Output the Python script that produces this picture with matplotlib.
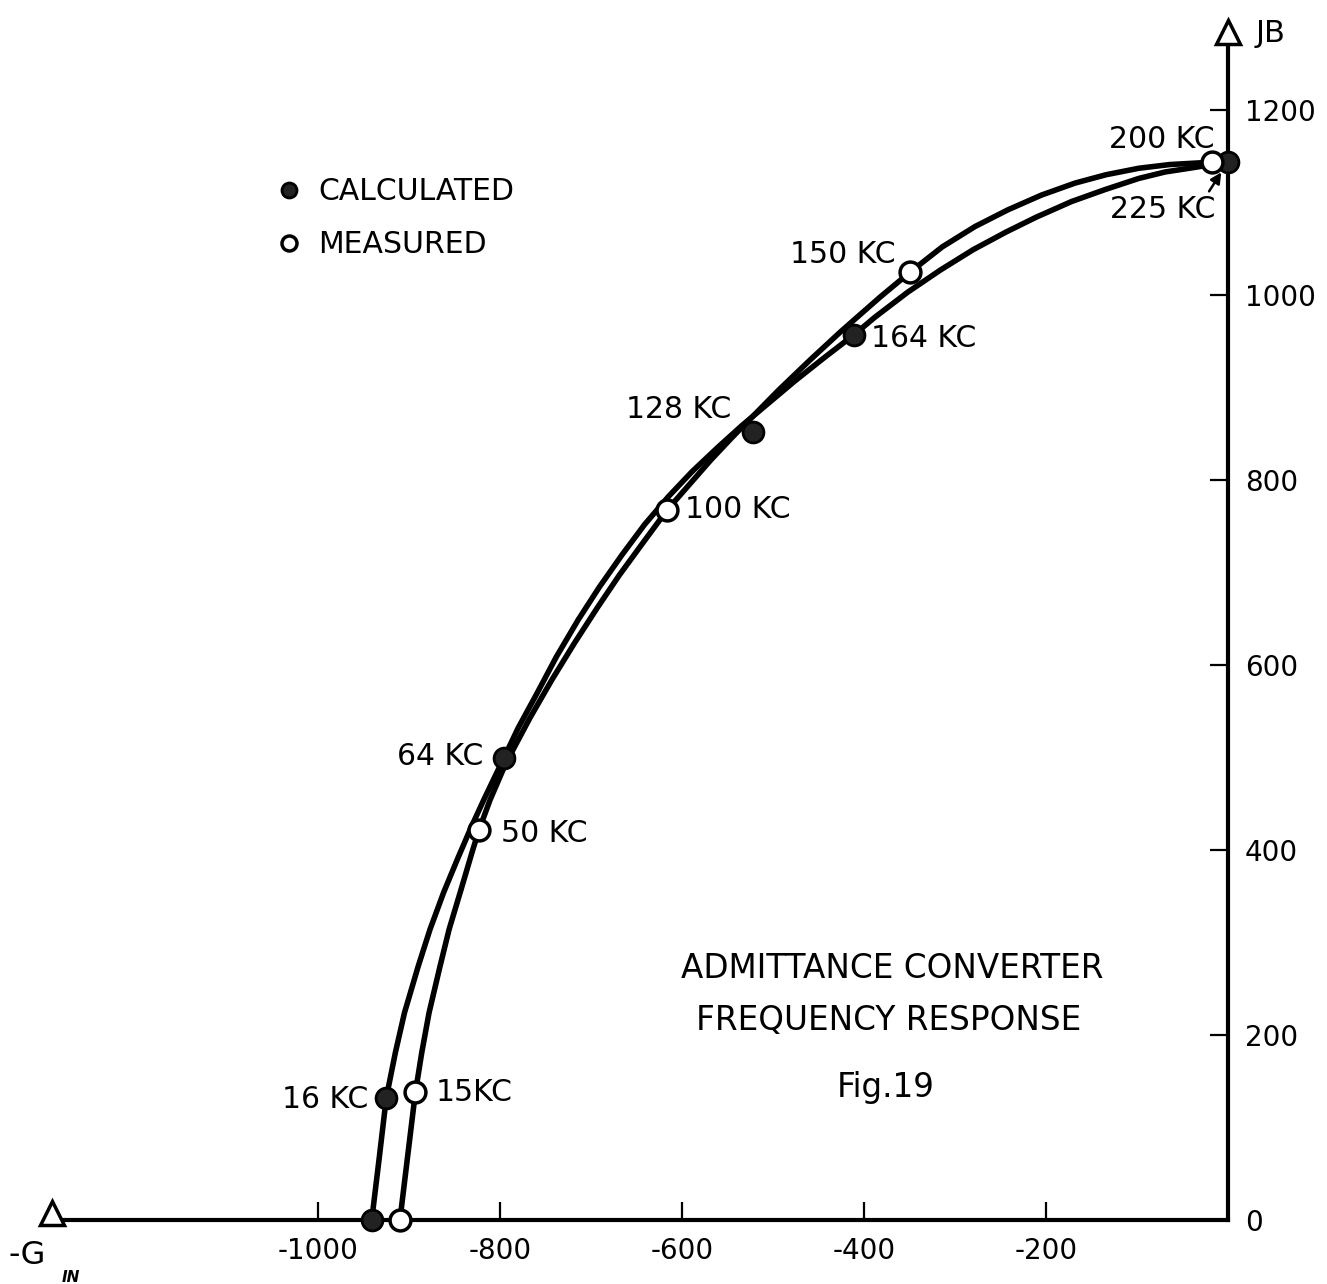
import matplotlib
matplotlib.use('Agg')
import matplotlib.pyplot as plt

# admittance converter frequency response, Fig. 19
# -G_in (x) against jB (y)

# curve through the calculated values
calc_curve_g = [-941, -933, -925, -915, -905, -890, -877, -862, -846, -832,
                -817, -796, -780, -759, -738, -714, -691, -666, -641, -615,
                -589, -561, -534, -505, -476, -444, -411, -388, -352, -316,
                -280, -244, -211, -172, -135, -98, -69, -36, 0]
calc_curve_b = [0, 65, 132, 181, 224, 274, 314, 354, 392, 424,
                456, 499, 532, 570, 609, 649, 684, 719, 752, 782,
                809, 835, 859, 883, 907, 932, 957, 976, 1003, 1027,
                1049, 1068, 1084, 1101, 1114, 1126, 1133, 1138, 1144]
# curve through the measured values
meas_curve_g = [-910, -902, -893, -886, -878, -866, -856, -842, -830, -823,
                -811, -797, -787, -767, -743, -718, -693, -669, -643, -616,
                -592, -568, -545, -519, -494, -459, -426, -411, -382, -349,
                -314, -278, -242, -205, -168, -134, -98, -64, -28, -18]
meas_curve_b = [0, 65, 138, 181, 224, 274, 314, 360, 400, 422,
                454, 486, 506, 543, 584, 624, 662, 697, 732, 768,
                795, 822, 846, 872, 897, 930, 960, 973, 998, 1025,
                1052, 1074, 1092, 1108, 1121, 1130, 1137, 1141, 1143, 1144]

# points
calc_g = [-941, -925, -796, -522, -411, 0]
calc_b = [0, 132, 499, 852, 957, 1144]
calc_lbl = ['', '16 KC', '64 KC', '128 KC', '164 KC', '225 KC']
meas_g = [-910, -893, -823, -616, -349, -18]
meas_b = [0, 138, 422, 768, 1025, 1144]
meas_lbl = ['', '15KC', '50 KC', '100 KC', '150 KC', '200 KC']

xticks = [-1000, -800, -600, -400, -200]
xtick_lbl = ['-1000', '-800', '-600', '-400', '-200']
yticks = [0, 200, 400, 600, 800, 1000, 1200]
ytick_lbl = ['0', '200', '400', '600', '800', '1000', '1200']

plt.rcParams['font.family'] = 'DejaVu Sans'

W, H = 1327, 1284
fig = plt.figure(figsize=(W / 100, H / 100), dpi=100)
ax = fig.add_axes([0, 0, 1, 1])
ax.set_xlim(-1349.5, 108.8)
ax.set_ylim(-69.2, 1318.9)

# axes drawn through the origin
ax.spines['top'].set_visible(False)
ax.spines['left'].set_visible(False)
ax.spines['bottom'].set_position(('data', 0))
ax.spines['right'].set_position(('data', 0))
ax.spines['bottom'].set_bounds(-1290, 0)
ax.spines['right'].set_bounds(0, 1276)
for s in ['bottom', 'right']:
    ax.spines[s].set_linewidth(3)
ax.xaxis.set_ticks_position('bottom')
ax.yaxis.set_ticks_position('right')
ax.set_xticks(xticks, labels=xtick_lbl)
ax.set_yticks(yticks, labels=ytick_lbl)
ax.tick_params(axis='both', direction='in', length=13, width=1.6, pad=12, labelsize=20)

# arrow heads of the axes
ax.plot([-1292], [8], marker='^', ms=17, mfc='white', mec='black', mew=2.5, clip_on=False, zorder=5)
ax.plot([0], [1284], marker='^', ms=17, mfc='white', mec='black', mew=2.5, clip_on=False, zorder=5)

# curves
ax.plot(calc_curve_g, calc_curve_b, color='black', lw=4, solid_capstyle='round',
        solid_joinstyle='round', zorder=2)
ax.plot(meas_curve_g, meas_curve_b, color='black', lw=4, solid_capstyle='round',
        solid_joinstyle='round', zorder=2)

c_pts, = ax.plot(calc_g, calc_b, 'o', ms=15, mfc='#222222', mec='black', mew=2,
                 zorder=4, label='CALCULATED')
m_pts, = ax.plot(meas_g, meas_b, 'o', ms=15, mfc='white', mec='black', mew=2.5,
                 zorder=4, label='MEASURED')

fs = 21.5
calc_off = [None, (-18, -2, 'right'), (-20, 2, 'right'), (-22, 22, 'right'), (17, -4, 'left'), None]
meas_off = [None, (20, 0, 'left'), (22, -4, 'left'), (18, 0, 'left'), (-15, 17, 'right'), (3, 22, 'right')]
for g, b, t, o in zip(calc_g, calc_b, calc_lbl, calc_off):
    if o is not None:
        ax.annotate(t, (g, b), xytext=(o[0], o[1]), textcoords='offset pixels',
                    ha=o[2], va='center', fontsize=fs)
for g, b, t, o in zip(meas_g, meas_b, meas_lbl, meas_off):
    if o is not None:
        ax.annotate(t, (g, b), xytext=(o[0], o[1]), textcoords='offset pixels',
                    ha=o[2], va='center', fontsize=fs)

# 225 KC label with its arrow
ax.annotate(calc_lbl[5], (calc_g[5], calc_b[5]), xytext=(-13, -48), textcoords='offset pixels',
            ha='right', va='center', fontsize=fs,
            arrowprops=dict(arrowstyle='-|>', color='black', lw=1.8, relpos=(0.92, 1.0),
                            shrinkA=1, shrinkB=9, mutation_scale=16))

ax.legend(handles=[c_pts, m_pts], loc='upper left', bbox_to_anchor=(0.186, 0.883),
          frameon=False, fontsize=fs, markerscale=0.72, handlelength=1.0,
          handletextpad=0.5, labelspacing=0.8)


def fpos(px, py):
    return px / W, 1 - py / H


ax.text(*fpos(892, 968), 'ADMITTANCE CONVERTER', transform=fig.transFigure,
        ha='center', va='center', fontsize=23.5)
ax.text(*fpos(889, 1020), 'FREQUENCY RESPONSE', transform=fig.transFigure,
        ha='center', va='center', fontsize=23.5)
ax.text(*fpos(886, 1087), 'Fig.19', transform=fig.transFigure,
        ha='center', va='center', fontsize=23.5)

# axis names
ax.text(*fpos(8, 1255), '-G', transform=fig.transFigure, ha='left', va='center', fontsize=23)
ax.text(*fpos(62, 1277), 'IN', transform=fig.transFigure, ha='left', va='center',
        fontsize=11, style='italic', fontweight='bold')
ax.text(*fpos(1256, 33), 'JB', transform=fig.transFigure, ha='left', va='center', fontsize=22)

fig.savefig('out.png', dpi=100)
